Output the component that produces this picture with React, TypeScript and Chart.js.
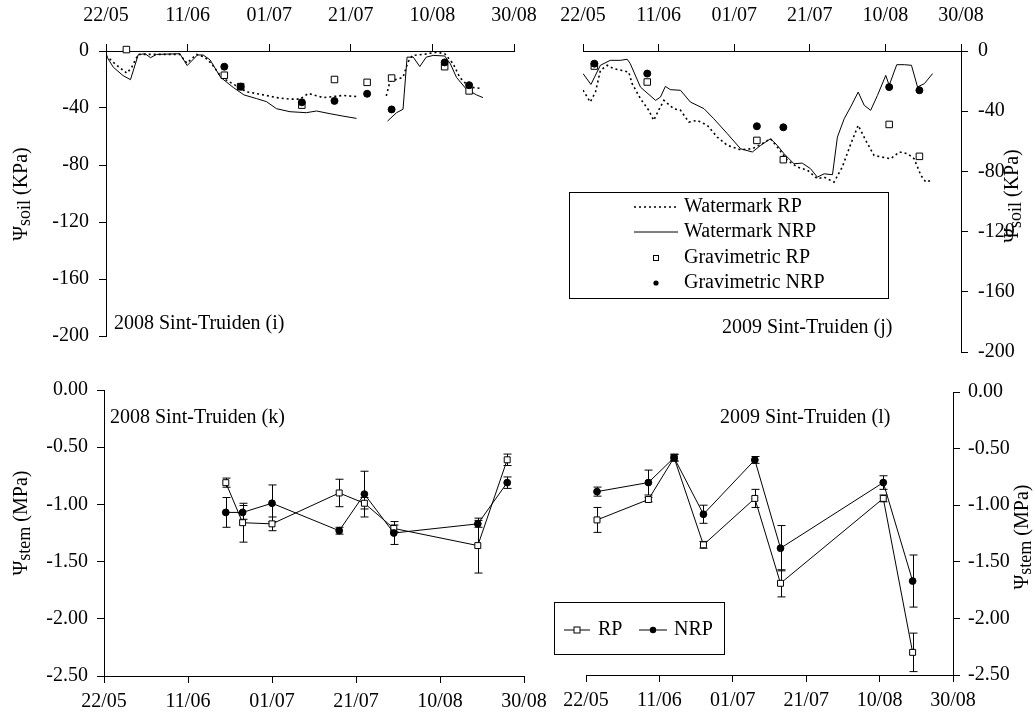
import React, { useEffect, useRef } from 'react';
import { Chart, registerables } from 'chart.js';

Chart.register(...registerables);

const PAGE_W = 1035;
const PAGE_H = 724;
const SERIF = "'Liberation Serif', 'Times New Roman', Times, serif";

// Shared date axis: days counted from 22 May, labelled every 20 days
const dayTicks = [0, 20, 40, 60, 80, 100];
const dateLabels = ['22/05', '11/06', '01/07', '21/07', '10/08', '30/08'];
const soilTicks = [-200, -160, -120, -80, -40, 0];
const stemTicks = [-2.5, -2, -1.5, -1, -0.5, 0];

// 2008 soil water potential (kPa), Watermark sensors
const wmRP08Days = [0, 2.2, 5.1, 6.3, 7.9, 12.4, 18.1, 19.8, 22.2, 24.2, 25.9, 28.3, 31.2, 34.4, 37.7, 41.8, 45.1, 47.5, 49.6, 53.2, 56.5, 58.1, 61.4, 65, 68.7, 69.6, 72.8, 74, 75.1, 77.7, 81, 83, 85.1, 86.7, 88.3, 90, 92];
const wmRP08 = [-3.1, -9, -15.6, -11.4, -2.4, -2.4, -2.4, -8.5, -2.4, -4.3, -9, -18.5, -23.2, -28.6, -30.3, -32.7, -33.8, -33.8, -29.8, -32.7, -31.7, -31.2, -32, null, -31.5, -21.3, -18.5, -7.8, -3.1, -2.4, -0.9, -1.9, -9, -18.5, -23.2, -25.6, -26.3];
const wmNRP08Days = [0, 1.8, 4.2, 6, 7.9, 9.6, 10.9, 12.4, 18.1, 19.9, 22.4, 23.8, 25.5, 28.1, 31.2, 33.8, 36.9, 39.3, 41.8, 45.1, 49.1, 51.6, 54.9, 58.1, 61.4, 65, 69, 71.2, 72.8, 73.8, 75.3, 76.9, 78.5, 80.2, 83, 84.4, 85.9, 88.3, 90.8, 92.4];
const wmNRP08 = [-3.1, -11.4, -17.3, -20.1, -2.6, -1.9, -4.7, -2.4, -1.9, -10.2, -2.8, -2.8, -6.2, -18.5, -25.6, -30.8, -33.4, -35.5, -40.5, -42.6, -43.3, -42.1, -44, -45.7, -47.3, null, -49.2, -43.3, -40.9, -4.3, -4.3, -10.9, -4.3, -3.1, -3.5, -9, -18.5, -26.7, -30.8, -32.7];

// 2008 gravimetric samples (kPa)
const gravRP08Days = [5, 29, 33, 48, 56, 64, 70, 83, 89];
const gravRP08 = [1, -17, -25, -38, -20, -22, -19, -11, -28];
const gravNRP08Days = [29, 33, 48, 56, 64, 70, 83, 89];
const gravNRP08 = [-11, -25, -36, -35, -30, -41, -8, -24];

// 2009 soil water potential (kPa), Watermark sensors
const wmRP09Days = [0, 1.9, 3.3, 4.6, 6.4, 8.1, 10.3, 12.1, 13, 15.2, 17.4, 18.7, 20, 21.4, 24, 25.8, 28, 30.2, 32.9, 35.5, 38.2, 41.7, 44.8, 47.4, 49.6, 51.4, 54.1, 56.7, 59.4, 62, 63.8, 66.4, 68.6, 70.7, 72.8, 74.8, 77, 79.2, 81.4, 83.7, 85.9, 87.6, 89.4, 90.7, 92];
const wmRP09 = [-26, -33.9, -27.3, -12.9, -9.5, -11.7, -12.9, -14, -21.7, -31.7, -39.4, -46.1, -39.4, -32.8, -38.3, -39.4, -47.2, -46.1, -49.4, -57.2, -62.7, -65.6, -64.9, -61.6, -58.3, -63.8, -72.7, -77.1, -79.3, -84.9, -83.8, -87.1, -77.1, -62.7, -49.4, -59.4, -69.4, -70.5, -71.6, -67.1, -68.3, -71.6, -82.7, -87.1, -86];
const wmNRP09Days = [0, 2.1, 4.6, 7.2, 9.9, 11.7, 12.5, 15.2, 19.2, 20.5, 21.8, 23.1, 25.8, 28.4, 32, 34.6, 38.2, 41.7, 44.8, 47, 49.6, 51.4, 53.2, 55.8, 58, 60.2, 62, 63.8, 66, 67.3, 69.1, 70.8, 72.8, 74.4, 76.1, 77.9, 80.1, 81, 83, 85, 86.9, 88.5, 90.3, 92.5];
const wmNRP09 = [-15, -22.2, -9.5, -6.2, -6.2, -5.5, -8.4, -24, -32.8, -30.6, -23.5, -25.7, -26.1, -33.9, -38.3, -45, -55, -65, -67.1, -62.7, -58.3, -62.7, -68.3, -74.9, -74.5, -78.2, -83.8, -81.6, -82.2, -57.2, -45, -37.2, -27.3, -36.1, -39.4, -29.5, -16.2, -22.8, -9.1, -9.1, -9.5, -23.9, -21.7, -15];

// 2009 gravimetric samples (kPa)
const grav09Days = [3, 17, 46, 53, 81, 89];
const gravRP09 = [-10, -20.6, -59.4, -72.2, -48.8, -70];
const gravNRP09 = [-8.4, -15, -50, -50.7, -24, -26.1];

// Stem water potential (MPa) with standard errors
const stem08Days = [29, 33, 40, 56, 62, 69, 89, 96];
const stemRP08 = [-0.81, -1.16, -1.17, -0.9, -0.99, -1.21, -1.36, -0.61];
const stemRP08Err = [0.04, 0.17, 0.06, 0.12, 0.05, 0.03, 0.24, 0.05];
const stemNRP08 = [-1.07, -1.07, -0.99, -1.23, -0.91, -1.25, -1.17, -0.81];
const stemNRP08Err = [0.13, 0.06, 0.16, 0.03, 0.2, 0.1, 0.03, 0.05];

const stem09Days = [3, 17, 24, 32, 46, 53, 81, 89];
const stemRP09 = [-1.13, -0.95, -0.58, -1.35, -0.94, -1.69, -0.94, -2.3];
const stemRP09Err = [0.11, 0.02, 0.03, 0.03, 0.08, 0.12, 0.03, 0.17];
const stemNRP09 = [-0.88, -0.8, -0.58, -1.08, -0.6, -1.38, -0.8, -1.67];
const stemNRP09Err = [0.04, 0.11, 0.03, 0.08, 0.03, 0.2, 0.06, 0.23];

const pts = (xs: number[], ys: (number | null)[]) => xs.map((x, i) => ({ x, y: ys[i] }));

const dottedLine = (label: string, xs: number[], ys: (number | null)[]) => ({
  label,
  data: pts(xs, ys),
  showLine: true,
  spanGaps: false,
  pointRadius: 0,
  borderColor: '#000',
  borderWidth: 1.6,
  borderDash: [2, 3],
});

const solidLine = (label: string, xs: number[], ys: (number | null)[]) => ({
  label,
  data: pts(xs, ys),
  showLine: true,
  spanGaps: false,
  pointRadius: 0,
  borderColor: '#000',
  borderWidth: 1,
});

const squares = (label: string, xs: number[], ys: number[], r = 4.6) => ({
  label,
  data: pts(xs, ys),
  showLine: false,
  pointStyle: 'rect',
  pointRadius: r,
  pointBackgroundColor: '#fff',
  pointBorderColor: '#000',
  pointBorderWidth: 1,
  clip: false,
});

const dots = (label: string, xs: number[], ys: number[], r = 3.5) => ({
  label,
  data: pts(xs, ys),
  showLine: false,
  pointStyle: 'circle',
  pointRadius: r,
  pointBackgroundColor: '#000',
  pointBorderColor: '#000',
  pointBorderWidth: 1,
  clip: false,
});

const stemSeries = (label: string, xs: number[], ys: number[], err: number[], style: 'rect' | 'circle') => ({
  label,
  data: pts(xs, ys),
  errorBars: err,
  showLine: true,
  borderColor: '#000',
  borderWidth: 1,
  pointStyle: style,
  pointRadius: style === 'rect' ? 4.2 : 3.4,
  pointBackgroundColor: style === 'rect' ? '#fff' : '#000',
  pointBorderColor: '#000',
  pointBorderWidth: 1,
  clip: false,
});

type LegendItem = { label: string; kind: 'dotted' | 'solid' | 'square' | 'circle' | 'lineSquare' | 'lineCircle'; sx: number; sy: number; tx: number };
type Deco = {
  texts: { text: string; x: number; y: number }[];
  title: { x: number; y: number; sub: string; unit: string };
  legend?: { box: [number, number, number, number]; items: LegendItem[] };
};

function drawSample(ctx: CanvasRenderingContext2D, it: LegendItem) {
  const { sx, sy } = it;
  ctx.save();
  ctx.strokeStyle = '#000';
  ctx.fillStyle = '#000';
  ctx.lineWidth = 1;
  if (it.kind === 'dotted') {
    ctx.lineWidth = 1.6;
    ctx.setLineDash([2, 3]);
    ctx.beginPath(); ctx.moveTo(sx - 22, sy); ctx.lineTo(sx + 22, sy); ctx.stroke();
  } else if (it.kind === 'solid') {
    ctx.beginPath(); ctx.moveTo(sx - 22, sy); ctx.lineTo(sx + 22, sy); ctx.stroke();
  } else if (it.kind === 'square') {
    ctx.fillStyle = '#fff';
    ctx.fillRect(sx - 2.5, sy - 2.5, 5, 5);
    ctx.strokeRect(sx - 2.5, sy - 2.5, 5, 5);
  } else if (it.kind === 'circle') {
    ctx.beginPath(); ctx.arc(sx, sy, 2.6, 0, Math.PI * 2); ctx.fill();
  } else if (it.kind === 'lineSquare') {
    ctx.beginPath(); ctx.moveTo(sx - 13, sy); ctx.lineTo(sx + 13, sy); ctx.stroke();
    ctx.fillStyle = '#fff';
    ctx.fillRect(sx - 3, sy - 3, 6, 6);
    ctx.strokeRect(sx - 3, sy - 3, 6, 6);
  } else {
    ctx.beginPath(); ctx.moveTo(sx - 14, sy); ctx.lineTo(sx + 14, sy); ctx.stroke();
    ctx.beginPath(); ctx.arc(sx, sy, 3.2, 0, Math.PI * 2); ctx.fill();
  }
  ctx.restore();
}

function makeDecoPlugin(deco: Deco) {
  return {
    id: 'panelDeco',
    beforeDatasetsDraw(chart: any) {
      const ctx: CanvasRenderingContext2D = chart.ctx;
      const ys = chart.scales.y;
      chart.data.datasets.forEach((ds: any, i: number) => {
        if (!ds.errorBars) return;
        const meta = chart.getDatasetMeta(i);
        ctx.save();
        ctx.strokeStyle = '#000';
        ctx.lineWidth = 1;
        meta.data.forEach((el: any, j: number) => {
          const v = ds.data[j].y;
          const e = ds.errorBars[j];
          const x = Math.round(el.x) + 0.5;
          const y1 = ys.getPixelForValue(v + e);
          const y2 = ys.getPixelForValue(v - e);
          ctx.beginPath();
          ctx.moveTo(x, y1); ctx.lineTo(x, y2);
          ctx.moveTo(x - 4, y1); ctx.lineTo(x + 4, y1);
          ctx.moveTo(x - 4, y2); ctx.lineTo(x + 4, y2);
          ctx.stroke();
        });
        ctx.restore();
      });
    },
    afterDraw(chart: any) {
      const ctx: CanvasRenderingContext2D = chart.ctx;
      ctx.save();
      ctx.fillStyle = '#000';
      ctx.textBaseline = 'middle';
      ctx.textAlign = 'left';
      ctx.font = `20px ${SERIF}`;
      deco.texts.forEach((t) => ctx.fillText(t.text, t.x, t.y));

      // Rotated axis title with subscript, reading bottom to top
      const { title } = deco;
      ctx.save();
      ctx.translate(title.x, title.y);
      ctx.rotate(-Math.PI / 2);
      const big = `20px ${SERIF}`;
      const small = `18px ${SERIF}`;
      ctx.font = big;
      const wPsi = ctx.measureText('Ψ').width;
      const wUnit = ctx.measureText(title.unit).width;
      ctx.font = small;
      const wSub = ctx.measureText(title.sub).width;
      let x = -(wPsi + wSub + wUnit) / 2;
      ctx.font = big;
      ctx.fillText('Ψ', x, 0);
      x += wPsi;
      ctx.font = small;
      ctx.fillText(title.sub, x, 3);
      x += wSub;
      ctx.font = big;
      ctx.fillText(title.unit, x, 0);
      ctx.restore();

      if (deco.legend) {
        const [x0, y0, x1, y1] = deco.legend.box;
        ctx.fillStyle = '#fff';
        ctx.fillRect(x0, y0, x1 - x0, y1 - y0);
        ctx.strokeStyle = '#000';
        ctx.lineWidth = 1;
        ctx.strokeRect(x0 + 0.5, y0 + 0.5, x1 - x0, y1 - y0);
        ctx.fillStyle = '#000';
        ctx.font = `20px ${SERIF}`;
        deco.legend.items.forEach((it) => {
          drawSample(ctx, it);
          ctx.fillStyle = '#000';
          ctx.fillText(it.label, it.tx, it.sy);
        });
      }
      ctx.restore();
    },
  };
}

type Area = { left: number; top: number; right: number; bottom: number };
type PanelSpec = {
  area: Area;
  xPos: 'top' | 'bottom';
  yPos: 'left' | 'right';
  yTicks: number[];
  yFmt: (v: number) => string;
  xPad: number;
  yPad: number;
  datasets: any[];
  deco: Deco;
};

const X_AXIS_H = 45;
const Y_AXIS_W_LEFT = 90;
const Y_AXIS_W_RIGHT = 60;
const TICK_LEN = 7;

function buildConfig(spec: PanelSpec): any {
  const { area } = spec;
  const yw = spec.yPos === 'left' ? Y_AXIS_W_LEFT : Y_AXIS_W_RIGHT;
  const padding = {
    left: spec.yPos === 'left' ? area.left - yw : area.left,
    right: spec.yPos === 'right' ? PAGE_W - area.right - yw : PAGE_W - area.right,
    top: spec.xPos === 'top' ? area.top - X_AXIS_H : area.top,
    bottom: spec.xPos === 'bottom' ? PAGE_H - area.bottom - X_AXIS_H : PAGE_H - area.bottom,
  };
  const axisGrid = {
    display: true,
    drawOnChartArea: false,
    drawTicks: true,
    tickLength: TICK_LEN,
    color: '#000',
    tickColor: '#000',
    lineWidth: 1,
  };
  const tickFont = { family: SERIF, size: 20 };
  return {
    type: 'scatter',
    data: { datasets: spec.datasets },
    plugins: [makeDecoPlugin(spec.deco)],
    options: {
      responsive: false,
      animation: false,
      devicePixelRatio: 1,
      layout: { padding },
      plugins: { legend: { display: false }, tooltip: { enabled: false }, title: { display: false } },
      scales: {
        x: {
          type: 'linear',
          position: spec.xPos,
          min: dayTicks[0],
          max: dayTicks[dayTicks.length - 1],
          afterBuildTicks: (s: any) => { s.ticks = dayTicks.map((value) => ({ value })); },
          afterFit: (s: any) => { s.height = X_AXIS_H; },
          ticks: {
            callback: (_v: any, i: number) => dateLabels[i],
            maxRotation: 0,
            minRotation: 0,
            autoSkip: false,
            padding: spec.xPad,
            color: '#000',
            font: tickFont,
          },
          grid: axisGrid,
          border: { display: true, color: '#000', width: 1 },
        },
        y: {
          type: 'linear',
          position: spec.yPos,
          min: spec.yTicks[0],
          max: spec.yTicks[spec.yTicks.length - 1],
          afterBuildTicks: (s: any) => { s.ticks = spec.yTicks.map((value) => ({ value })); },
          afterFit: (s: any) => { s.width = yw; },
          ticks: {
            callback: (v: any) => spec.yFmt(Number(v)),
            padding: spec.yPad,
            color: '#000',
            font: tickFont,
          },
          grid: axisGrid,
          border: { display: true, color: '#000', width: 1 },
        },
      },
    },
  };
}

const soilFmt = (v: number) => String(Math.round(v));
const stemFmt = (v: number) => v.toFixed(2);

const panels: PanelSpec[] = [
  {
    area: { left: 106, top: 51, right: 514, bottom: 336 },
    xPos: 'top', yPos: 'left', yTicks: soilTicks, yFmt: soilFmt, xPad: 16, yPad: 10,
    datasets: [
      dots('Gravimetric NRP', gravNRP08Days, gravNRP08),
      squares('Gravimetric RP', gravRP08Days, gravRP08),
      dottedLine('Watermark RP', wmRP08Days, wmRP08),
      solidLine('Watermark NRP', wmNRP08Days, wmNRP08),
    ],
    deco: {
      texts: [{ text: '2008 Sint-Truiden (i)', x: 114, y: 324 }],
      title: { x: 22, y: 194, sub: 'soil', unit: ' (KPa)' },
    },
  },
  {
    area: { left: 583, top: 51, right: 961, bottom: 352 },
    xPos: 'top', yPos: 'right', yTicks: soilTicks, yFmt: soilFmt, xPad: 16, yPad: 10,
    datasets: [
      dots('Gravimetric NRP', grav09Days, gravNRP09),
      squares('Gravimetric RP', grav09Days, gravRP09),
      dottedLine('Watermark RP', wmRP09Days, wmRP09),
      solidLine('Watermark NRP', wmNRP09Days, wmNRP09),
    ],
    deco: {
      texts: [{ text: '2009 Sint-Truiden (j)', x: 722, y: 328 }],
      title: { x: 1013, y: 196, sub: 'soil', unit: ' (KPa)' },
      legend: {
        box: [569, 192, 888, 298],
        items: [
          { label: 'Watermark RP', kind: 'dotted', sx: 656, sy: 207, tx: 684 },
          { label: 'Watermark NRP', kind: 'solid', sx: 656, sy: 232, tx: 684 },
          { label: 'Gravimetric RP', kind: 'square', sx: 656, sy: 258, tx: 684 },
          { label: 'Gravimetric NRP', kind: 'circle', sx: 656, sy: 283, tx: 684 },
        ],
      },
    },
  },
  {
    area: { left: 104, top: 390, right: 524, bottom: 676 },
    xPos: 'bottom', yPos: 'left', yTicks: stemTicks, yFmt: stemFmt, xPad: 7, yPad: 9,
    datasets: [
      stemSeries('NRP', stem08Days, stemNRP08, stemNRP08Err, 'circle'),
      stemSeries('RP', stem08Days, stemRP08, stemRP08Err, 'rect'),
    ],
    deco: {
      texts: [{ text: '2008 Sint-Truiden (k)', x: 110, y: 418 }],
      title: { x: 22, y: 523, sub: 'stem', unit: ' (MPa)' },
    },
  },
  {
    area: { left: 586, top: 392, right: 953, bottom: 675 },
    xPos: 'bottom', yPos: 'right', yTicks: stemTicks, yFmt: stemFmt, xPad: 7, yPad: 8,
    datasets: [
      stemSeries('NRP', stem09Days, stemNRP09, stemNRP09Err, 'circle'),
      stemSeries('RP', stem09Days, stemRP09, stemRP09Err, 'rect'),
    ],
    deco: {
      texts: [{ text: '2009 Sint-Truiden (l)', x: 720, y: 418 }],
      title: { x: 1023, y: 537, sub: 'stem', unit: ' (MPa)' },
      legend: {
        box: [554, 602, 724, 654],
        items: [
          { label: 'RP', kind: 'lineSquare', sx: 577, sy: 630, tx: 598 },
          { label: 'NRP', kind: 'lineCircle', sx: 653, sy: 630, tx: 674 },
        ],
      },
    },
  },
];

function Panel({ spec }: { spec: PanelSpec }) {
  const ref = useRef<HTMLCanvasElement>(null);
  useEffect(() => {
    if (!ref.current) return;
    const chart = new Chart(ref.current, buildConfig(spec));
    return () => chart.destroy();
  }, [spec]);
  return (
    <canvas
      ref={ref}
      width={PAGE_W}
      height={PAGE_H}
      style={{ position: 'absolute', left: 0, top: 0, width: PAGE_W, height: PAGE_H }}
    />
  );
}

export default function App() {
  return (
    <div style={{ position: 'absolute', left: 0, top: 0, width: PAGE_W, height: PAGE_H, background: '#fff', overflow: 'hidden' }}>
      {panels.map((p, i) => (
        <Panel key={i} spec={p} />
      ))}
    </div>
  );
}
